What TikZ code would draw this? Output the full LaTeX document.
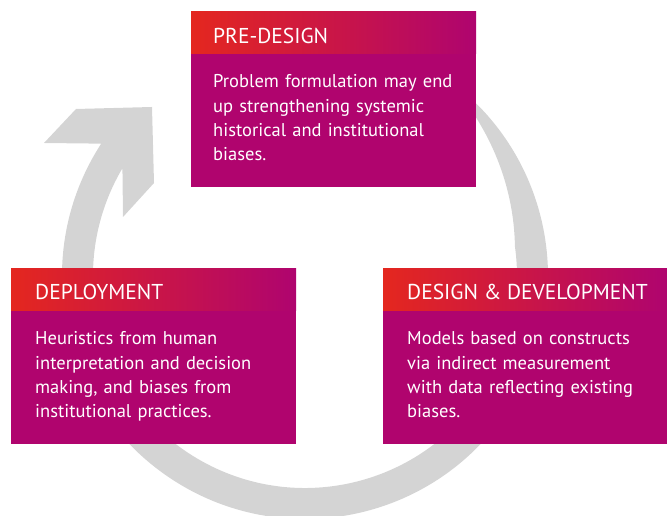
\documentclass[tikz,border=0pt]{standalone}
\usepackage{fontspec}
\setmainfont{PT Sans}
\definecolor{hdrL}{HTML}{E4271F}
\definecolor{hdrR}{HTML}{AF046F}
\definecolor{bodyc}{HTML}{B0046E}
\definecolor{ringc}{HTML}{D4D4D4}
\tikzset{
  hdrbox/.style={rectangle, inner sep=0pt, minimum width=285pt, minimum height=42pt,
    left color=hdrL, right color=hdrR, anchor=north west},
  bodybox/.style={rectangle, inner sep=0pt, fill=bodyc, minimum width=285pt,
    minimum height=133pt, anchor=north west},
  hdrtext/.style={text=white, font=\fontsize{21.5}{25}\selectfont, inner sep=0pt, anchor=base west},
  bodytext/.style={text=white, font=\fontsize{18.5}{24.2}\selectfont, inner sep=0pt,
    anchor=base west, text width=270pt, align=left},
  ring/.style={fill=ringc, draw=none}
}
\begin{document}
\begin{tikzpicture}[x=1pt,y=1pt]
\useasboundingbox (0,0) rectangle (667,516);
\clip (0,0) rectangle (667,516);
% cycle arrow
\path[ring] ({305+243*cos(55)},{240+243*sin(55)})
  arc[start angle=55, end angle=-213, radius=243pt]
  -- (44,373) -- (76,407) -- (152,409) -- (154,333) -- (123,299)
  -- ({305+212*cos(149.45)},{240+212*sin(149.45)})
  arc[start angle=-210.55, end angle=8, radius=212pt]
  -- plot[domain=8:55, samples=40, smooth]
     ({305+(212+31*(0.3*((\x-8)/47)*((\x-8)/47)+0.7*((\x-8)/47)))*cos(\x)},
      {240+(212+31*(0.3*((\x-8)/47)*((\x-8)/47)+0.7*((\x-8)/47)))*sin(\x)})
  -- cycle;
% PRE-DESIGN
\node[hdrbox] (preH) at (191,505) {};
\node[bodybox] (preB) at (preH.south west) {};
\node[hdrtext] (preT) at (213,472.5) {PRE-DESIGN};
\node[bodytext] (preX) at (213,428) {Problem formulation may end\\up strengthening systemic\\historical and institutional\\biases.};
% DEPLOYMENT
\node[hdrbox] (depH) at (11,248) {};
\node[bodybox] (depB) at (depH.south west) {};
\node[hdrtext] (depT) at (35,216) {DEPLOYMENT};
\node[bodytext] (depX) at (35,171) {Heuristics from human\\interpretation and decision\\making, and biases from\\institutional practices.};
% DESIGN & DEVELOPMENT
\node[hdrbox] (desH) at (383,248) {};
\node[bodybox] (desB) at (desH.south west) {};
\node[hdrtext] (desT) at (407,216) {DESIGN \& DEVELOPMENT};
\node[bodytext] (desX) at (407,171) {Models based on constructs\\via indirect measurement\\with data reflecting existing\\biases.};
\end{tikzpicture}
\end{document}
